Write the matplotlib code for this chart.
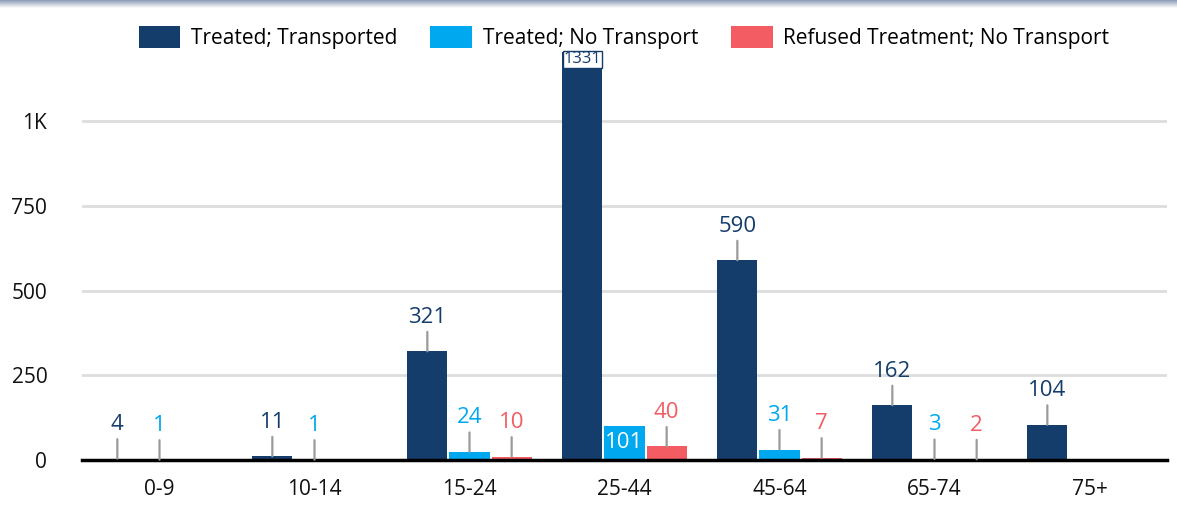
import matplotlib.pyplot as plt
import numpy as np

plt.rcParams['font.family'] = ['Open Sans', 'DejaVu Sans']

# Data
age_groups = ["0-9", "10-14", "15-24", "25-44", "45-64", "65-74", "75+"]
series_names = ["Treated; Transported", "Treated; No Transport", "Refused Treatment; No Transport"]
treated_transported = [4, 11, 321, 1331, 590, 162, 104]
treated_no_transport = [1, 1, 24, 101, 31, 3, 0]
refused_no_transport = [0, 0, 10, 40, 7, 2, 0]

COLORS = ["#143d6b", "#00a8f0", "#f25c62"]

fig = plt.figure(figsize=(11.77, 5.14), dpi=100)
ax = fig.add_axes([82 / 1177, 54 / 514, (1167 - 82) / 1177, (460 - 52) / 514])

# thin gradient strip at the very top
gax = fig.add_axes([0, 1 - 8 / 514, 1, 8 / 514])
grad = np.linspace(0, 1, 50).reshape(-1, 1)
gax.imshow(grad, aspect="auto", cmap=plt.matplotlib.colors.LinearSegmentedColormap.from_list(
    "g", ["#8a9bb5", "#ffffff"]), extent=[0, 1, 0, 1], origin="upper")
gax.axis("off")

x = np.arange(len(age_groups))
width = 0.26
step = 0.272
all_series = [treated_transported, treated_no_transport, refused_no_transport]
ymax = 1205

for i, (vals, name, color) in enumerate(zip(all_series, series_names, COLORS)):
    pos = x + (i - 1) * step
    ax.bar(pos, vals, width=width, color=color, label=name, zorder=3)
    for px, v in zip(pos, vals):
        if v == 0:
            continue
        if v > ymax:
            # value beyond top: label sits at the clipped bar top
            ax.text(px, ymax - 22, str(v), ha="center", va="center", fontsize=12,
                    color=color, zorder=5, clip_on=False,
                    bbox=dict(boxstyle="square,pad=0.05", fc="white", ec=color, lw=1))
        elif name == "Treated; No Transport" and v > 80:
            ax.text(px, v / 2, str(v), ha="center", va="center", fontsize=16,
                    color="white", zorder=5)
        else:
            ax.annotate(str(v), xy=(px, v), xytext=(0, 17), textcoords="offset points",
                        ha="center", va="bottom", fontsize=16, color=color, zorder=5,
                        arrowprops=dict(arrowstyle="-", color="#9a9a9a", lw=1.6,
                                        shrinkA=1, shrinkB=0))

ax.set_xlim(-0.5, 6.5)
ax.set_ylim(0, ymax)
ax.set_yticks([0, 250, 500, 750, 1000])
ax.set_yticklabels(["0", "250", "500", "750", "1K"])
ax.set_xticks(x)
ax.set_xticklabels(age_groups)
ax.tick_params(axis="both", length=0, labelsize=15, colors="#111111")
ax.tick_params(axis="y", pad=25)
ax.tick_params(axis="x", pad=14)

ax.grid(axis="y", color="#dddddd", lw=2, zorder=0)
for s in ["top", "right", "left"]:
    ax.spines[s].set_visible(False)
ax.spines["bottom"].set_color("black")
ax.spines["bottom"].set_linewidth(2.5)
ax.spines["bottom"].set_zorder(4)

fig.legend(loc="upper center", bbox_to_anchor=(624 / 1177, 1 - 7 / 514), ncol=3,
           frameon=False, fontsize=15, handlelength=2.0, handleheight=1.3,
           columnspacing=1.6, handletextpad=0.5)

fig.savefig("out.png", dpi=100)
